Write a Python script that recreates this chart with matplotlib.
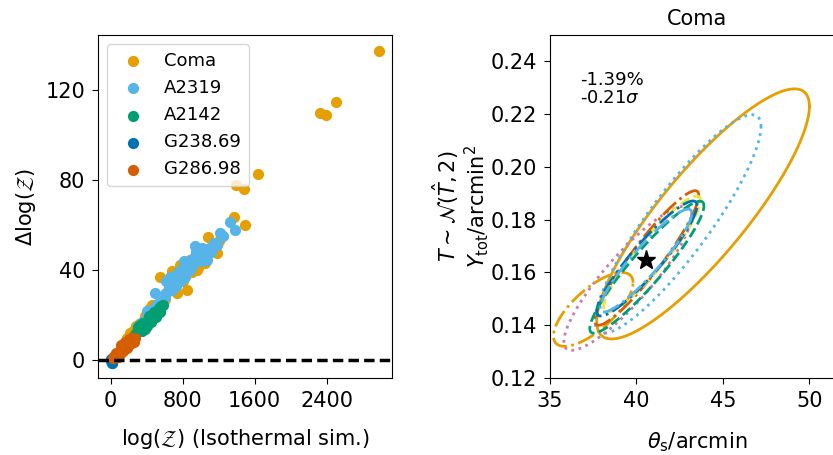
import numpy as np
import matplotlib.pyplot as plt

# evidence differences per cluster: (log Z isothermal, delta log Z)
coma_x = [2981, 2326, 2389, 2503, 1633, 1392, 1485, 1374, 1496, 1081, 1178, 548, 678, 770,
          881, 955, 844, 733, 437, 214, 320, 380, 600, 650, 1000, 1100, 900, 500, 150, 250,
          1050, 1200, 800, 700, 460, 540, 620, 760, 980, 1150, 280, 180, 120]
coma_y = [137.6, 110.1, 109.0, 114.7, 82.8, 77.7, 76.1, 63.8, 60.1, 54.7, 47.5, 37.1, 39.7, 42.3,
          44.5, 40.0, 31.2, 29.7, 23.0, 11.9, 16.0, 19.5, 27.0, 33.0, 46.0, 50.0, 39.0, 24.0, 7.0, 13.0,
          43.0, 53.0, 35.0, 34.0, 24.5, 22.0, 30.0, 37.5, 42.0, 50.5, 15.0, 10.0, 5.0]

a2319_x = [1326, 1381, 1214, 937, 1073, 492, 1150, 1100, 1050, 1000, 950, 900, 850, 800, 750,
           700, 650, 620, 600, 560, 520, 480, 450, 400, 350, 300, 700, 750, 800, 850, 900, 680,
           730, 780, 830, 880, 1000, 1120, 1180, 1250, 950, 1020, 620, 660, 820, 400]
a2319_y = [61.5, 57.9, 56.4, 50.9, 44.5, 29.7, 52.0, 50.0, 48.0, 47.0, 45.0, 42.0, 40.0, 38.0, 36.0,
           35.0, 33.0, 30.0, 28.0, 26.0, 25.0, 23.0, 21.0, 19.0, 17.0, 15.0, 37.0, 39.0, 41.0, 43.0, 45.0, 31.0,
           33.0, 35.0, 37.0, 40.0, 44.0, 48.0, 51.0, 55.0, 48.0, 50.0, 35.0, 37.0, 44.0, 22.0]

a2142_x = [251, 280, 300, 320, 340, 360, 380, 400, 420, 440, 460, 480, 500, 520, 540, 560, 584,
           300, 350, 400, 450, 500, 550, 330, 380, 430, 480, 270, 360, 410]
a2142_y = [10.4, 12.0, 13.0, 13.5, 14.5, 15.0, 16.0, 16.5, 17.5, 18.5, 19.0, 20.0, 21.0, 22.0, 23.0, 24.0, 24.5,
           14.5, 13.0, 15.0, 17.0, 19.0, 21.5, 15.5, 14.0, 19.5, 21.5, 11.0, 16.5, 18.0]

g238_x = [11, 0, 5, 20, 15]
g238_y = [-1.2, 0.5, -0.5, 0.2, -1.5]

g286_x = [30, 50, 70, 90, 110, 130, 150, 170, 190, 210, 230, 251, 270, 100, 140, 180, 220, 260,
          60, 120, 160, 200, 240, 40, 80]
g286_y = [0.7, 1.5, 2.5, 3.5, 4.3, 5.2, 6.0, 6.8, 7.5, 8.3, 9.0, 9.6, 9.8, 2.5, 4.0, 5.5, 7.0, 8.2,
          3.0, 6.5, 8.0, 9.5, 10.0, 2.0, 1.5]

clusters = ['Coma', 'A2319', 'A2142', 'G238.69', 'G286.98']

# Coma posterior contours: centre, half extent and correlation for each run
ct_theta = [43.85, 42.4, 39.5, 37.5, 40.6, 40.9, 40.6, 40.6, 40.55]
ct_y = [0.1822, 0.1784, 0.1578, 0.146, 0.1655, 0.167, 0.1653, 0.162, 0.1645]
ct_dtheta = [6.15, 4.8, 3.7, 2.3, 3.0, 2.8, 2.9, 3.3, 2.65]
ct_dy = [0.0474, 0.0414, 0.0273, 0.014, 0.0255, 0.022, 0.0218, 0.025, 0.0195]
ct_rho = [0.86, 0.89, 0.88, 0.72, 0.93, 0.92, 0.92, 0.93, 0.92]
truth_theta = 40.53
truth_y = 0.1648

cols = ['#E69F00', '#56B4E9', '#009E73', '#0072B2', '#D55E00']
ct_cols = ['#E69F00', '#56B4E9', '#CC79A7', '#E69F00', '#D55E00', '#F0E442', '#0072B2', '#009E73', '#56B4E9']
ct_ls = ['-', ':', ':', '-.', '-.', '--', '-.', '--', '-.']

fig = plt.figure(figsize=(8.33, 4.55), dpi=100)
ax1 = fig.add_axes([0.1176, 0.1692, 0.3529, 0.7538])
ax2 = fig.add_axes([0.6603, 0.1692, 0.3529, 0.7538])

xs = [coma_x, a2319_x, a2142_x, g238_x, g286_x]
ys = [coma_y, a2319_y, a2142_y, g238_y, g286_y]
for x, y, c, lab in zip(xs, ys, cols, clusters):
    ax1.scatter(x, y, s=65, color=c, label=lab, linewidths=0)
ax1.axhline(0, color='k', ls='--', lw=2.5, dashes=(3, 1.5))
ax1.set_xlim(-141, 3125)
ax1.set_ylim(-8, 144.6)
ax1.set_xticks([0, 800, 1600, 2400])
ax1.set_yticks([0, 40, 80, 120])
ax1.tick_params(labelsize=15, length=4.2, pad=5)
ax1.set_xlabel(r'$\log(\mathcal{Z})$ (Isothermal sim.)', fontsize=15, labelpad=12)
ax1.set_ylabel(r'$\Delta\log(\mathcal{Z})$', fontsize=15, labelpad=5)
ax1.legend(loc='upper left', fontsize=13, handletextpad=0.7, borderpad=0.45,
           labelspacing=0.5, markerscale=1.0, handlelength=2.0)

t = np.linspace(0, 2 * np.pi, 400)
for i in range(len(ct_theta)):
    d = np.arccos(ct_rho[i])
    xx = ct_theta[i] + ct_dtheta[i] * np.cos(t)
    yy = ct_y[i] + ct_dy[i] * np.cos(t - d)
    ax2.plot(xx, yy, color=ct_cols[i], ls=ct_ls[i], lw=2)
ax2.plot(truth_theta, truth_y, marker='*', color='k', ms=14, ls='none')
ax2.set_xlim(35, 52)
ax2.set_ylim(0.12, 0.25)
ax2.set_xticks([35, 40, 45, 50])
ax2.set_yticks([0.12, 0.14, 0.16, 0.18, 0.20, 0.22, 0.24])
ax2.tick_params(labelsize=15, length=4.2, pad=5)
ax2.set_xlabel(r'$\theta_{\rm s}$/arcmin', fontsize=15, labelpad=14)
ax2.set_ylabel(r'$T\sim\mathcal{N}(\hat{T},2)$' + '\n' + r'$Y_{\rm tot}$/arcmin$^2$', fontsize=15,
               labelpad=0, linespacing=1.05)
ax2.set_title('Coma', fontsize=15, pad=7)
ax2.text(0.102, 0.895, '-1.39%\n-0.21$\\sigma$', transform=ax2.transAxes, fontsize=13,
         va='top', ha='left', linespacing=1.0)

fig.savefig('out.png', dpi=100)
